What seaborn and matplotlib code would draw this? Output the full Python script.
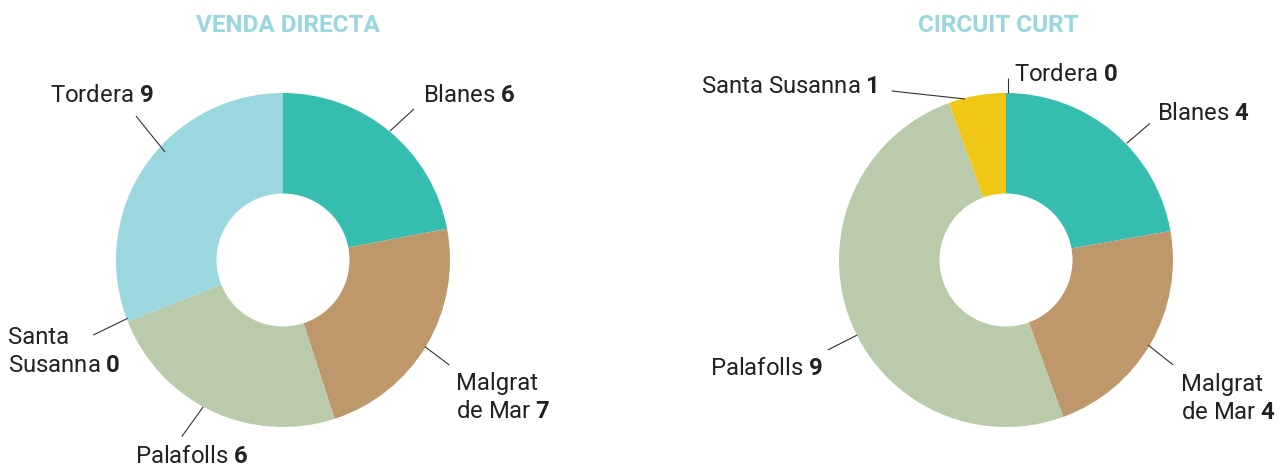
import matplotlib
matplotlib.use("Agg")
import matplotlib.pyplot as plt
import seaborn as sns

# ---------------- data ----------------
municipis = ["Blanes", "Malgrat de Mar", "Palafolls", "Santa Susanna", "Tordera"]
label_lines = [["Blanes"], ["Malgrat", "de Mar"], ["Palafolls"], ["Santa", "Susanna"], ["Tordera"]]
label_lines_cc = [["Blanes"], ["Malgrat", "de Mar"], ["Palafolls"], ["Santa Susanna"], ["Tordera"]]

venda_directa = [6, 7, 6, 0, 9]            # numbers printed on the labels
venda_directa_share = [22, 23, 24, 0, 31]  # wedge sizes as drawn in the picture (%)
circuit_curt = [4, 4, 9, 1, 0]

titles = ["VENDA DIRECTA", "CIRCUIT CURT"]
colors = ["#35BEB0", "#BE976B", "#BACBAB", "#F1C716", "#9BD7DE"]

# ---------------- layout (pixels of the 1285x466 canvas) ----------------
W, H, DPI = 1285, 466, 100
R_PX = 167.0
HOLE_PX = 66.5
centers = [(283, 260), (1006, 260)]
title_x = [288, 998]
title_base = 31.7

# leader start, leader end, text anchor (left, first baseline) in pixels
lay_left = [
    ((390, 131), (414, 109), (423, 102.3)),
    ((425, 346.7), (449.3, 365), (456, 390)),
    ((203.3, 406.7), (181.7, 436.7), (134.5, 462.7)),
    ((127.7, 318.3), (93.3, 335), (8.3, 344)),
    ((165, 152), (136, 116), (50, 101.7)),
]
lay_right = [
    ((1126.7, 143.3), (1150, 123.3), (1157.3, 120)),
    ((1148, 345), (1173.3, 365), (1181, 391)),
    ((857.3, 335), (827.7, 350), (710, 375)),
    ((965, 99), (891.7, 91), (701, 92.7)),
    ((1007.7, 93), (1007.7, 78), (1013.5, 81)),
]
LINE_GAP = 28.0

sns.set_theme(style="white")
plt.rcParams["font.family"] = ["Roboto", "DejaVu Sans"]
plt.rcParams["mathtext.fontset"] = "custom"
plt.rcParams["mathtext.rm"] = "Roboto"
plt.rcParams["mathtext.bf"] = "Roboto:bold"

palette = sns.color_palette(colors)
TXT = "#222222"
FS = 17.2

fig = plt.figure(figsize=(W / DPI, H / DPI), dpi=DPI)
fig.patch.set_facecolor("white")

halves = [(0, 642), (642, 643)]
datasets = [
    (venda_directa_share, venda_directa, label_lines, lay_left),
    (circuit_curt, circuit_curt, label_lines_cc, lay_right),
]

for i, ((x0, w), (cx, cy)) in enumerate(zip(halves, centers)):
    sizes, nums, lines, lay = datasets[i]
    ax = fig.add_axes([x0 / W, 0, w / W, 1])
    ax.pie(sizes, colors=palette, startangle=90, counterclock=False, radius=1,
           normalize=True,
           wedgeprops=dict(width=1 - HOLE_PX / R_PX, edgecolor="none", linewidth=0))

    def px(p, cx=cx, cy=cy):
        return ((p[0] - cx) / R_PX, (cy - p[1]) / R_PX)

    ax.set_xlim((x0 - cx) / R_PX, (x0 + w - cx) / R_PX)
    ax.set_ylim((cy - H) / R_PX, cy / R_PX)
    ax.set_aspect("auto")
    ax.axis("off")

    tx, ty = px((title_x[i], title_base))
    ax.text(tx, ty, titles[i], ha="center", va="baseline", fontsize=17.5,
            fontweight="bold", color="#98D7DF")

    for name_lines, n, (s, e, t) in zip(lines, nums, lay):
        sx, sy = px(s)
        ex, ey = px(e)
        ax.plot([sx, ex], [sy, ey], color="#333333", lw=0.8, solid_capstyle="butt")
        for k, ln in enumerate(name_lines):
            txt = ln
            if k == len(name_lines) - 1:
                txt = ln + " $\\mathbf{" + str(n) + "}$"
            lx, ly = px((t[0], t[1] + k * LINE_GAP))
            ax.text(lx, ly, txt, ha="left", va="baseline", fontsize=FS, color=TXT)

fig.savefig("out.png", dpi=DPI, facecolor="white")
